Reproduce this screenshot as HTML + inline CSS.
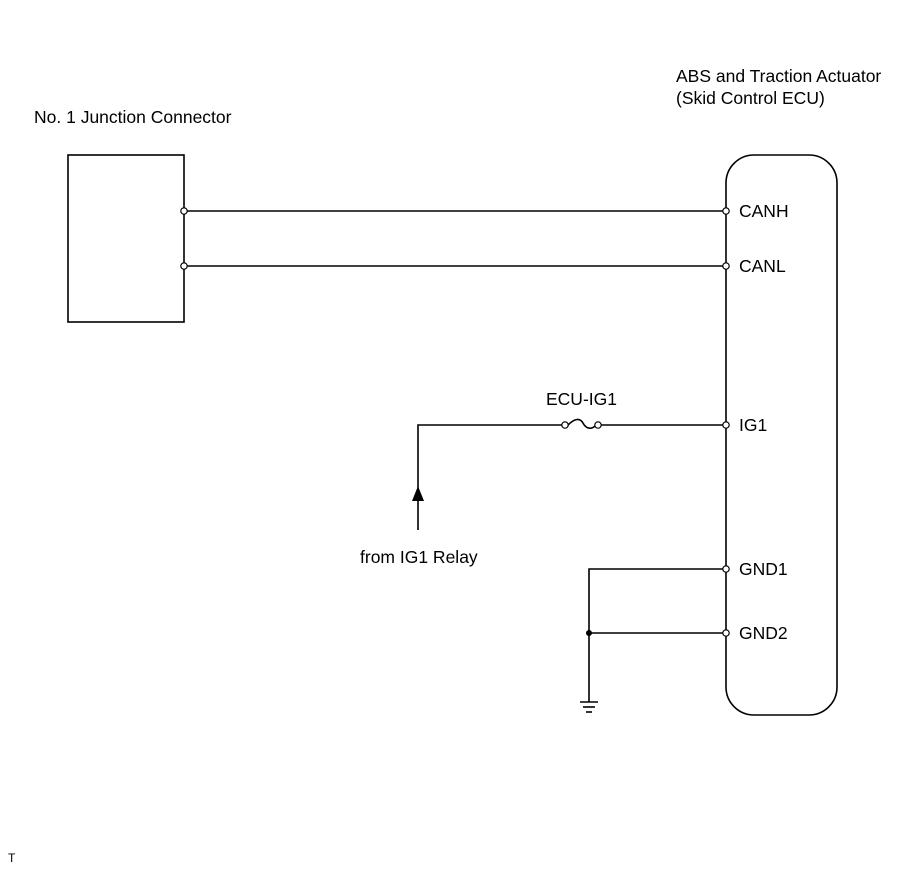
<!DOCTYPE html>
<html><head><style>
html,body{margin:0;padding:0;background:#fff;}
svg text{font-family:"Liberation Sans",Arial,sans-serif;font-size:17.5px;fill:#000;}
</style></head><body>
<svg width="907" height="866" viewBox="0 0 907 866" xmlns="http://www.w3.org/2000/svg">
<g stroke="#000" stroke-width="1.6" fill="none">
<rect x="68" y="155" width="116" height="167"/>
<rect x="726" y="155" width="111" height="560" rx="28" ry="28"/>
<line x1="184" y1="211" x2="726" y2="211"/>
<line x1="184" y1="266" x2="726" y2="266"/>
<polyline points="418,530 418,425 564,425"/>
<line x1="598" y1="425" x2="726" y2="425"/>
<path d="M568,425 C575,418 580,418 583,423 C586,429 592,430 596,425"/>
<polyline points="726,569 589,569 589,702"/>
<line x1="589" y1="633" x2="726" y2="633"/>
<line x1="580" y1="702" x2="598" y2="702"/>
<line x1="583" y1="707" x2="595" y2="707"/>
<line x1="586" y1="712" x2="592" y2="712"/>
</g>
<polygon points="418,486 412,501 424,501" fill="#000"/>
<circle cx="589" cy="633" r="3" fill="#000"/>
<g fill="#fff" stroke="#000" stroke-width="1.2">
<circle cx="184" cy="211" r="3.2"/><circle cx="184" cy="266" r="3.2"/>
<circle cx="726" cy="211" r="3.2"/><circle cx="726" cy="266" r="3.2"/>
<circle cx="726" cy="425" r="3.2"/><circle cx="726" cy="569" r="3.2"/>
<circle cx="726" cy="633" r="3.2"/>
<circle cx="565" cy="425" r="3.2"/><circle cx="598" cy="425" r="3.2"/>
</g>
<text x="34" y="123">No. 1 Junction Connector</text>
<text x="676" y="82">ABS and Traction Actuator</text>
<text x="676" y="104">(Skid Control ECU)</text>
<text x="739" y="217">CANH</text>
<text x="739" y="272">CANL</text>
<text x="739" y="431">IG1</text>
<text x="739" y="575">GND1</text>
<text x="739" y="639">GND2</text>
<text x="546" y="405">ECU-IG1</text>
<text x="360" y="563">from IG1 Relay</text>
<text x="8" y="862" style="font-size:12px">T</text>
</svg>
</body></html>
